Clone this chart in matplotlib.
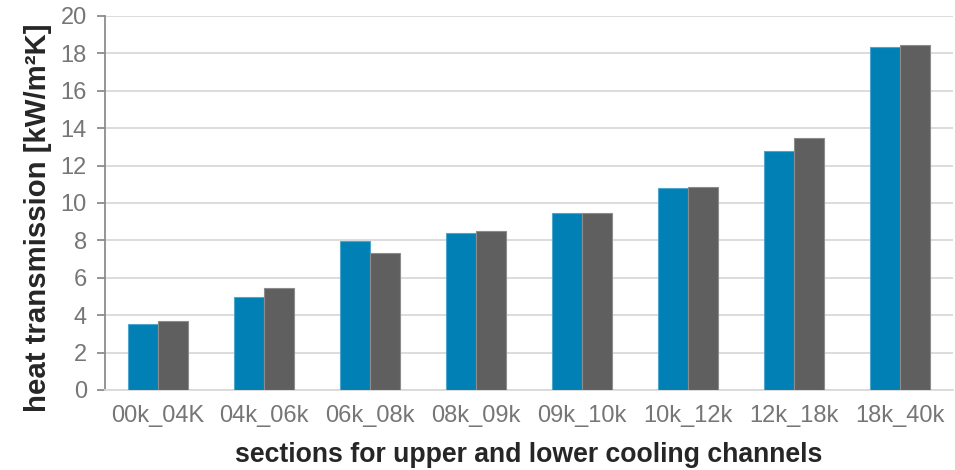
import numpy as np
import matplotlib.pyplot as plt

plt.rcParams['font.family'] = ['Liberation Sans', 'DejaVu Sans']

sections = ['00k_04K', '04k_06k', '06k_08k', '08k_09k', '09k_10k',
            '10k_12k', '12k_18k', '18k_40k']
upper = [3.53, 4.97, 7.96, 8.42, 9.48, 10.79, 12.79, 18.34]
lower = [3.68, 5.45, 7.31, 8.50, 9.48, 10.83, 13.48, 18.45]
yticks = list(range(0, 21, 2))

blue = '#0080B4'
grey = '#5F5F5F'

fig = plt.figure(figsize=(9.55, 4.7), dpi=100)
ax = fig.add_axes([105 / 955, 1 - 390 / 470, 848 / 955, 374 / 470])

x = np.arange(len(sections))
w = 0.283
ax.bar(x - w / 2, upper, w, color=blue, edgecolor='#4FA6CC', linewidth=0.8, zorder=3)
ax.bar(x + w / 2, lower, w, color=grey, edgecolor='#8C8C8C', linewidth=0.8, zorder=3)

ax.set_xlim(-0.5, len(sections) - 0.5)
ax.set_ylim(0, 20)
ax.set_yticks(yticks)
ax.set_xticks(x)
ax.set_xticklabels(sections)
ax.yaxis.grid(True, color='#D9D9D9', linewidth=1.3, zorder=0)
ax.set_axisbelow(True)

for s in ['top', 'right']:
    ax.spines[s].set_visible(False)
ax.spines['left'].set_color('#8C8C8C')
ax.spines['left'].set_linewidth(1.3)
ax.spines['bottom'].set_color('#D9D9D9')
ax.spines['bottom'].set_linewidth(1.3)

ax.tick_params(axis='y', colors='#8C8C8C', labelcolor='#767676', labelsize=17,
               length=6, width=1.3, direction='out', pad=7)
ax.tick_params(axis='x', length=0, labelcolor='#767676', labelsize=17, pad=11)

ax.set_ylabel('heat transmission [kW/m²K]', fontsize=21.2, fontweight='bold',
              color='#262626')
ax.yaxis.set_label_coords(-0.062, 0.461)
ax.set_xlabel('sections for upper and lower cooling channels', fontsize=19.2,
              fontweight='bold', color='#262626')
ax.xaxis.set_label_coords(0.5, -0.138)

fig.savefig('out.png', dpi=100)
